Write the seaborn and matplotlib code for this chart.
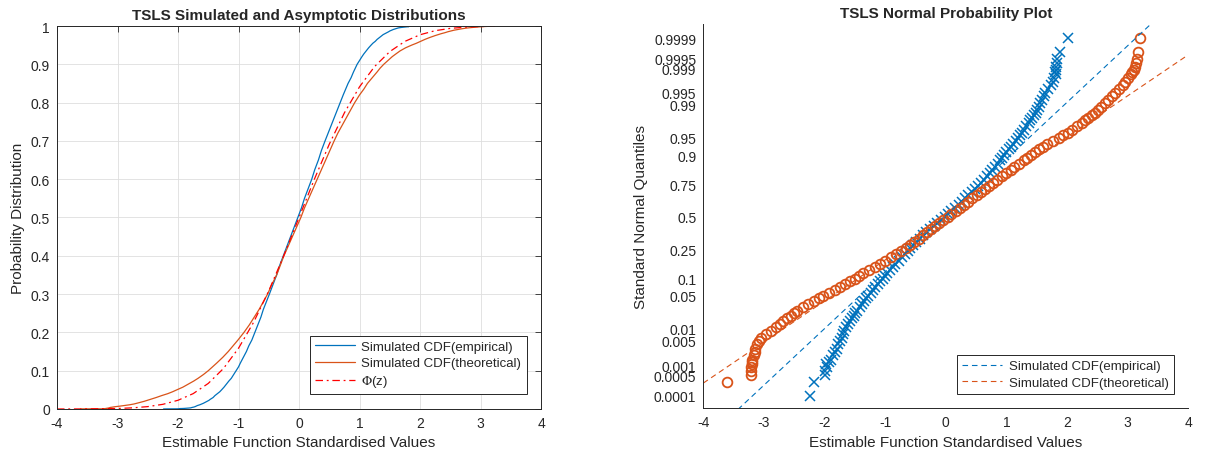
import numpy as np
import pandas as pd
import seaborn as sns
import matplotlib.pyplot as plt
from statistics import NormalDist

# probability levels (lower half, median, upper half)
p_lower = [0.0001, 0.0003, 0.0005, 0.0007, 0.0009, 0.0011, 0.0013, 0.0015, 0.002, 0.0025,
           0.003, 0.004, 0.005, 0.006, 0.0075, 0.009, 0.011, 0.013, 0.015, 0.0175,
           0.02, 0.0225, 0.025, 0.03, 0.035, 0.04, 0.045, 0.05, 0.057, 0.065,
           0.073, 0.08, 0.09, 0.1, 0.11, 0.12, 0.135, 0.15, 0.165, 0.18,
           0.2, 0.22, 0.24, 0.26, 0.28, 0.3, 0.325, 0.35, 0.375, 0.4,
           0.425, 0.45, 0.475]
p_mid = [0.5]
p_upper = [0.525, 0.55, 0.575, 0.6, 0.625, 0.65, 0.675, 0.7, 0.72, 0.74,
           0.76, 0.78, 0.8, 0.82, 0.835, 0.85, 0.865, 0.88, 0.89, 0.9,
           0.91, 0.92, 0.927, 0.935, 0.943, 0.95, 0.955, 0.96, 0.965, 0.97,
           0.975, 0.9775, 0.98, 0.9825, 0.985, 0.987, 0.989, 0.991, 0.9925, 0.994,
           0.995, 0.996, 0.997, 0.9975, 0.998, 0.9985, 0.9987, 0.9989, 0.9991, 0.9993,
           0.9995, 0.9997, 0.9999]

# simulated quantiles (empirical = blue, theoretical = orange)
emp_lower = [-2.24, -2.17, -2.00, -1.99, -1.96, -1.97, -1.93, -1.90, -1.86, -1.82,
             -1.79, -1.77, -1.74, -1.72, -1.70, -1.68, -1.64, -1.61, -1.58, -1.55,
             -1.52, -1.49, -1.47, -1.42, -1.39, -1.35, -1.31, -1.28, -1.24, -1.20,
             -1.16, -1.12, -1.08, -1.04, -1.00, -0.97, -0.92, -0.87, -0.83, -0.78,
             -0.73, -0.68, -0.63, -0.59, -0.54, -0.49, -0.43, -0.37, -0.32, -0.26,
             -0.20, -0.14, -0.08]
emp_mid = [-0.02]
emp_upper = [0.04, 0.09, 0.15, 0.21, 0.26, 0.32, 0.37, 0.43, 0.48, 0.53,
             0.58, 0.63, 0.68, 0.73, 0.77, 0.81, 0.86, 0.90, 0.93, 0.96,
             1.00, 1.04, 1.07, 1.11, 1.15, 1.19, 1.22, 1.26, 1.29, 1.33,
             1.37, 1.39, 1.42, 1.45, 1.48, 1.50, 1.53, 1.56, 1.59, 1.62,
             1.64, 1.68, 1.73, 1.76, 1.79, 1.81, 1.80, 1.82, 1.81, 1.83,
             1.84, 1.88, 2.02]
theo_lower = [np.nan, -3.61, -3.22, -3.21, -3.21, -3.20, -3.19, -3.19, -3.17, -3.15,
              -3.14, -3.12, -3.08, -3.04, -2.96, -2.89, -2.80, -2.73, -2.68, -2.62,
              -2.56, -2.51, -2.46, -2.36, -2.27, -2.17, -2.09, -2.02, -1.92, -1.83,
              -1.74, -1.67, -1.58, -1.50, -1.43, -1.36, -1.26, -1.17, -1.09, -1.01,
              -0.91, -0.82, -0.74, -0.66, -0.59, -0.52, -0.45, -0.37, -0.31, -0.25,
              -0.18, -0.11, -0.04]
theo_mid = [0.03]
theo_upper = [0.09, 0.16, 0.23, 0.30, 0.37, 0.44, 0.51, 0.58, 0.64, 0.71,
              0.78, 0.85, 0.92, 1.00, 1.07, 1.13, 1.21, 1.29, 1.34, 1.40,
              1.47, 1.54, 1.60, 1.67, 1.76, 1.86, 1.94, 2.01, 2.08, 2.16,
              2.25, 2.30, 2.35, 2.41, 2.46, 2.51, 2.56, 2.63, 2.68, 2.74,
              2.79, 2.85, 2.92, 2.96, 3.01, 3.05, 3.07, 3.10, 3.12, 3.14,
              3.15, 3.17, 3.20]

# standard normal cdf as drawn (red dash-dot)
phi_x = [-4.0, -3.5, -3.0, -2.75, -2.5, -2.25, -2.0, -1.75, -1.5, -1.25, -1.0, -0.75, -0.5, -0.25,
         0.0, 0.25, 0.5, 0.75, 1.0, 1.25, 1.5, 1.75, 2.0, 2.25, 2.5, 2.75, 3.0, 3.3]
phi_p = [0.0000, 0.0002, 0.0013, 0.0030, 0.0062, 0.0122, 0.0228, 0.0401, 0.0668, 0.1056, 0.1587, 0.2266, 0.3085, 0.4013,
         0.5, 0.5987, 0.6915, 0.7734, 0.8413, 0.8944, 0.9332, 0.9599, 0.9772, 0.9878, 0.9938, 0.9970, 0.9987, 0.9995]

# reference lines of the probability plot (location, scale)
ref_mu = [-0.025, 0.05]
ref_sigma = [0.85, 1.172]

series_names = ["Simulated CDF(empirical)", "Simulated CDF(theoretical)"]
prob_ticks = [0.0001, 0.0005, 0.001, 0.005, 0.01, 0.05, 0.1, 0.25, 0.5,
              0.75, 0.9, 0.95, 0.99, 0.995, 0.999, 0.9995, 0.9999]
x_ticks = [-4, -3, -2, -1, 0, 1, 2, 3, 4]
cdf_ticks = [0, 0.1, 0.2, 0.3, 0.4, 0.5, 0.6, 0.7, 0.8, 0.9, 1]

BLUE = "#0072BD"
ORANGE = "#D95319"
TXT = "#262626"

sns.set_theme(style="white")
plt.rcParams["font.family"] = ["Liberation Sans", "DejaVu Sans"]
plt.rcParams["mathtext.fontset"] = "stix"

nd = NormalDist()
df = pd.DataFrame({"p": p_lower + p_mid + p_upper,
                   "emp": emp_lower + emp_mid + emp_upper,
                   "theo": theo_lower + theo_mid + theo_upper})
df["z"] = [nd.inv_cdf(p) for p in df["p"]]

fig = plt.figure(figsize=(12.08, 4.64), dpi=100)
ax1 = fig.add_axes([0.0472, 0.1164, 0.4007, 0.8254])
ax2 = fig.add_axes([0.5822, 0.1179, 0.4015, 0.8282])

leg_kw = dict(loc="lower right", fontsize=9.5, frameon=True, fancybox=False, framealpha=1,
              edgecolor=TXT, borderaxespad=1.1, handlelength=3.0, handletextpad=0.5,
              borderpad=0.4, labelspacing=0.3)

# ---- left: CDFs
sns.lineplot(x=df["emp"], y=df["p"], ax=ax1, color=BLUE, lw=0.9, sort=False, estimator=None,
             label=series_names[0])
sns.lineplot(x=df["theo"], y=df["p"], ax=ax1, color=ORANGE, lw=0.9, sort=False, estimator=None,
             label=series_names[1])
sns.lineplot(x=phi_x, y=phi_p, ax=ax1, color="red", lw=0.9, sort=False, estimator=None,
             linestyle=(0, (6, 3, 1.5, 3)), label=r"$\Phi$(z)")
ax1.set_xlim(-4, 4)
ax1.set_ylim(0, 1)
ax1.set_xticks(x_ticks)
ax1.set_xticklabels([str(t) for t in x_ticks])
ax1.set_yticks(cdf_ticks)
ax1.set_yticklabels([f"{t:g}" for t in cdf_ticks])
ax1.grid(True, color="#dedede", lw=0.6)
ax1.set_axisbelow(True)
ax1.tick_params(direction="in", length=4, width=0.6, colors=TXT, labelsize=10,
                top=True, right=True, pad=5)
for s in ax1.spines.values():
    s.set_color(TXT)
    s.set_linewidth(0.7)
ax1.set_title("TSLS Simulated and Asymptotic Distributions", fontsize=11, fontweight="bold", pad=5)
ax1.set_xlabel("Estimable Function Standardised Values", fontsize=11, color=TXT)
ax1.set_ylabel("Probability Distribution", fontsize=11, color=TXT)
leg1 = ax1.legend(**leg_kw)
leg1.get_frame().set_linewidth(0.7)

# ---- right: normal probability plot
sns.lineplot(x=df["emp"], y=df["z"], ax=ax2, color=BLUE, linestyle="none", marker="x",
             markersize=6.5, markeredgewidth=1.1, markeredgecolor=BLUE, sort=False, estimator=None)
sns.lineplot(x=df["theo"], y=df["z"], ax=ax2, color=ORANGE, linestyle="none", marker="o",
             markersize=7, markerfacecolor="none", markeredgewidth=1.3, markeredgecolor=ORANGE,
             sort=False, estimator=None)
xs = np.array(x_ticks, dtype=float)
for mu, sd, c, name in zip(ref_mu, ref_sigma, [BLUE, ORANGE], series_names):
    sns.lineplot(x=xs, y=(xs - mu) / sd, ax=ax2, color=c, lw=0.8, linestyle=(0, (5, 3.5)),
                 sort=False, estimator=None, label=name)
ax2.set_xlim(-4, 4)
ax2.set_ylim(-3.98, 4.01)
ax2.set_xticks(x_ticks)
ax2.set_xticklabels([str(t) for t in x_ticks])
ax2.set_yticks([nd.inv_cdf(p) for p in prob_ticks])
ax2.set_yticklabels([f"{p:g}" for p in prob_ticks])
ax2.tick_params(direction="in", length=4, width=0.6, colors=TXT, labelsize=10, pad=5)
sns.despine(ax=ax2)
for s in ["left", "bottom"]:
    ax2.spines[s].set_color(TXT)
    ax2.spines[s].set_linewidth(0.7)
ax2.set_title("TSLS Normal Probability Plot", fontsize=11, fontweight="bold", pad=5)
ax2.set_xlabel("Estimable Function Standardised Values", fontsize=11, color=TXT)
ax2.set_ylabel("Standard Normal Quantiles", fontsize=11, color=TXT)
leg2 = ax2.legend(**leg_kw)
leg2.get_frame().set_linewidth(0.7)

fig.savefig("out.png", dpi=100)
